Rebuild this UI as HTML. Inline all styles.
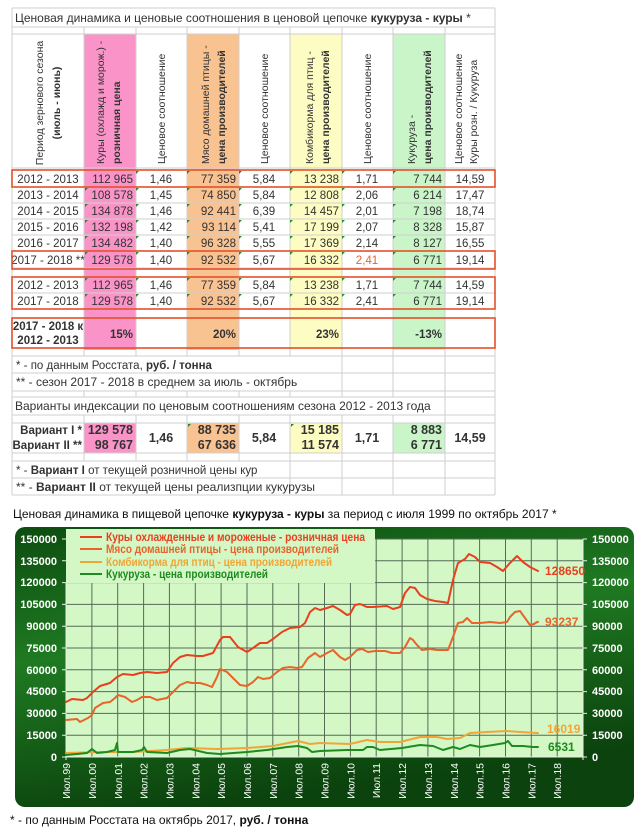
<!DOCTYPE html>
<html><head><meta charset="utf-8">
<style>
html,body{margin:0;padding:0;background:#fff;}
svg{display:block;font-family:"Liberation Sans",sans-serif;}
</style></head><body>
<svg width="640" height="838" viewBox="0 0 640 838" xmlns="http://www.w3.org/2000/svg">
<defs>
<linearGradient id="bg" x1="0" y1="0" x2="0.3" y2="1">
<stop offset="0" stop-color="#0d4d10"/><stop offset="0.45" stop-color="#1f7a22"/><stop offset="1" stop-color="#0b420d"/>
</linearGradient>
</defs>
<rect x="84" y="34" width="52" height="316" fill="#fa94c8"/>
<rect x="187" y="34" width="52" height="316" fill="#f9c291"/>
<rect x="290" y="34" width="52" height="316" fill="#fdfcc2"/>
<rect x="393" y="34" width="52" height="316" fill="#c9f5c9"/>
<rect x="84" y="423" width="52" height="30" fill="#fa94c8"/>
<rect x="187" y="423" width="52" height="30" fill="#f9c291"/>
<rect x="290" y="423" width="52" height="30" fill="#fdfcc2"/>
<rect x="393" y="423" width="52" height="30" fill="#c9f5c9"/>
<g stroke="#cfcfcf" stroke-width="1" fill="none">
<path d="M12 8H495M12 27H495M12 34H495M12 168H495M12 187H495M12 203H495M12 219H495M12 235H495M12 251H495M12 268H495M12 277H495M12 293H495M12 309H495M12 318H495M12 348H495M12 356H495M12 373H495M12 391H495M12 397H495M12 415H495M12 423H495M12 453H495M12 461H495M12 478H495M12 495H495"/>
<path d="M12 8V495M495 8V495"/>
<path d="M84 27V356M136 27V356M187 27V356M239 27V356M290 27V356M342 27V356M393 27V356M445 27V356"/>
<path d="M84 391V397M136 391V397M187 391V397M239 391V397M290 391V397M342 391V397M393 391V397M445 391V397"/>
<path d="M84 415V461M136 415V461M187 415V461M239 415V461M290 415V461M342 415V461M393 415V461M445 415V461"/>
<path d="M342 356V391M393 356V391M445 356V391M445 397V415M290 461V495M342 461V495M393 461V495M445 461V495"/>
</g>
<g font-size="12" fill="#333">
<text x="15" y="22">Ценовая динамика и ценовые соотношения в ценовой цепочке <tspan font-weight="bold">кукуруза - куры</tspan> *</text>
</g>
<g font-size="10.5" fill="#333">
<text transform="translate(43,103) rotate(-90)" text-anchor="middle">Период зернового сезона</text>
<text transform="translate(60,103) rotate(-90)" text-anchor="middle" font-weight="bold">(июль - июнь)</text>
<text transform="translate(104,164) rotate(-90)">Куры (охлажд и морож.) -</text>
<text transform="translate(120,164) rotate(-90)" font-weight="bold">розничная цена</text>
<text transform="translate(165,164) rotate(-90)">Ценовое соотношение</text>
<text transform="translate(209,164) rotate(-90)">Мясо домашней птицы -</text>
<text transform="translate(225,164) rotate(-90)" font-weight="bold">цена производителей</text>
<text transform="translate(268,164) rotate(-90)">Ценовое соотношение</text>
<text transform="translate(313,164) rotate(-90)">Комбикорма для птиц -</text>
<text transform="translate(329,164) rotate(-90)" font-weight="bold">цена производителей</text>
<text transform="translate(371,164) rotate(-90)">Ценовое соотношение</text>
<text transform="translate(415,164) rotate(-90)">Кукуруза -</text>
<text transform="translate(431,164) rotate(-90)" font-weight="bold">цена производителей</text>
<text transform="translate(462,164) rotate(-90)">Ценовое соотношение</text>
<text transform="translate(477,164) rotate(-90)">Куры розн. / Кукуруза</text>
</g>
<g font-size="11.5" fill="#333">
<g text-anchor="middle">
<text x="48" y="183">2012 - 2013</text><text x="48" y="199">2013 - 2014</text><text x="48" y="215">2014 - 2015</text><text x="48" y="231">2015 - 2016</text><text x="48" y="247">2016 - 2017</text><text x="48" y="264">2017 - 2018 **</text>
<text x="48" y="289">2012 - 2013</text><text x="48" y="305">2017 - 2018</text>
<text x="161" y="183">1,46</text><text x="161" y="199">1,45</text><text x="161" y="215">1,46</text><text x="161" y="231">1,42</text><text x="161" y="247">1,40</text><text x="161" y="264">1,40</text><text x="161" y="289">1,46</text><text x="161" y="305">1,40</text>
<text x="264" y="183">5,84</text><text x="264" y="199">5,84</text><text x="264" y="215">6,39</text><text x="264" y="231">5,41</text><text x="264" y="247">5,55</text><text x="264" y="264">5,67</text><text x="264" y="289">5,84</text><text x="264" y="305">5,67</text>
<text x="367" y="183">1,71</text><text x="367" y="199">2,06</text><text x="367" y="215">2,01</text><text x="367" y="231">2,07</text><text x="367" y="247">2,14</text><text x="367" y="264" fill="#e8642a">2,41</text><text x="367" y="289">1,71</text><text x="367" y="305">2,41</text>
<text x="470" y="183">14,59</text><text x="470" y="199">17,47</text><text x="470" y="215">18,74</text><text x="470" y="231">15,87</text><text x="470" y="247">16,55</text><text x="470" y="264">19,14</text><text x="470" y="289">14,59</text><text x="470" y="305">19,14</text>
</g>
<g text-anchor="end">
<text x="133" y="183">112 965</text><text x="133" y="199">108 578</text><text x="133" y="215">134 878</text><text x="133" y="231">132 198</text><text x="133" y="247">134 482</text><text x="133" y="264">129 578</text><text x="133" y="289">112 965</text><text x="133" y="305">129 578</text>
<text x="236" y="183">77 359</text><text x="236" y="199">74 850</text><text x="236" y="215">92 441</text><text x="236" y="231">93 114</text><text x="236" y="247">96 328</text><text x="236" y="264">92 532</text><text x="236" y="289">77 359</text><text x="236" y="305">92 532</text>
<text x="339" y="183">13 238</text><text x="339" y="199">12 808</text><text x="339" y="215">14 457</text><text x="339" y="231">17 199</text><text x="339" y="247">17 369</text><text x="339" y="264">16 332</text><text x="339" y="289">13 238</text><text x="339" y="305">16 332</text>
<text x="442" y="183">7 744</text><text x="442" y="199">6 214</text><text x="442" y="215">7 198</text><text x="442" y="231">8 328</text><text x="442" y="247">8 127</text><text x="442" y="264">6 771</text><text x="442" y="289">7 744</text><text x="442" y="305">6 771</text>
</g>
<g font-weight="bold">
<text x="48" y="330" text-anchor="middle">2017 - 2018 к</text>
<text x="48" y="344" text-anchor="middle">2012 - 2013</text>
<text x="133" y="338" text-anchor="end">15%</text>
<text x="236" y="338" text-anchor="end">20%</text>
<text x="339" y="338" text-anchor="end">23%</text>
<text x="442" y="338" text-anchor="end">-13%</text>
</g>
<text x="16" y="369">* - по данным Росстата, <tspan font-weight="bold">руб. / тонна</tspan></text>
<text x="16" y="386" font-size="12">** - сезон 2017 - 2018 в среднем за июль - октябрь</text>
<text x="15" y="410" font-size="12">Варианты индексации по ценовым соотношениям сезона 2012 - 2013 года</text>
<g font-weight="bold">
<text x="82" y="434" text-anchor="end">Вариант I *</text>
<text x="82" y="449" text-anchor="end">Вариант II **</text>
<text x="133" y="434" text-anchor="end" font-size="12.5">129 578</text>
<text x="133" y="449" text-anchor="end" font-size="12.5">98 767</text>
<text x="161" y="442" text-anchor="middle" font-size="12.5">1,46</text>
<text x="236" y="434" text-anchor="end" font-size="12.5">88 735</text>
<text x="236" y="449" text-anchor="end" font-size="12.5">67 636</text>
<text x="264" y="442" text-anchor="middle" font-size="12.5">5,84</text>
<text x="339" y="434" text-anchor="end" font-size="12.5">15 185</text>
<text x="339" y="449" text-anchor="end" font-size="12.5">11 574</text>
<text x="367" y="442" text-anchor="middle" font-size="12.5">1,71</text>
<text x="442" y="434" text-anchor="end" font-size="12.5">8 883</text>
<text x="442" y="449" text-anchor="end" font-size="12.5">6 771</text>
<text x="470" y="442" text-anchor="middle" font-size="12.5">14,59</text>
</g>
<text x="16" y="474">* - <tspan font-weight="bold">Вариант I</tspan> от текущей розничной цены кур</text>
<text x="16" y="491" font-size="12">** - <tspan font-weight="bold">Вариант II</tspan> от текущей цены реализпции кукурузы</text>
</g>
<g fill="#2a8a2a">
<path d="M85 188h3l-3 3zM85 204h3l-3 3zM85 220h3l-3 3zM85 236h3l-3 3zM85 252h3l-3 3zM85 278h3l-3 3zM85 294h3l-3 3z"/>
<path d="M136 171h3l-3 3zM136 188h3l-3 3zM136 204h3l-3 3zM136 220h3l-3 3zM136 236h3l-3 3zM136 252h3l-3 3zM136 278h3l-3 3zM136 294h3l-3 3z"/>
<path d="M187 171h3l-3 3zM187 188h3l-3 3zM187 204h3l-3 3zM187 220h3l-3 3zM187 236h3l-3 3zM187 252h3l-3 3zM187 278h3l-3 3zM187 294h3l-3 3zM188 424h3l-3 3z"/>
<path d="M239 171h3l-3 3zM239 188h3l-3 3zM239 204h3l-3 3zM239 220h3l-3 3zM239 236h3l-3 3zM239 252h3l-3 3zM239 278h3l-3 3zM239 294h3l-3 3z"/>
<path d="M290 171h3l-3 3zM290 188h3l-3 3zM290 204h3l-3 3zM290 220h3l-3 3zM290 236h3l-3 3zM290 252h3l-3 3zM290 278h3l-3 3zM290 294h3l-3 3zM291 424h3l-3 3z"/>
<path d="M342 171h3l-3 3zM342 188h3l-3 3zM342 204h3l-3 3zM342 220h3l-3 3zM342 236h3l-3 3zM342 252h3l-3 3zM342 278h3l-3 3zM342 294h3l-3 3z"/>
<path d="M393 171h3l-3 3zM393 188h3l-3 3zM393 204h3l-3 3zM393 220h3l-3 3zM393 236h3l-3 3zM393 252h3l-3 3zM393 278h3l-3 3zM393 294h3l-3 3z"/>
</g>
<g fill="none" stroke="#e5502a" stroke-width="1.6">
<rect x="12" y="170" width="483" height="17"/>
<rect x="12" y="251" width="483" height="18"/>
<rect x="12" y="277" width="483" height="32"/>
<rect x="12" y="318" width="483" height="30"/>
</g>
<text x="13" y="518" font-size="12" fill="#111">Ценовая динамика в пищевой цепочке <tspan font-weight="bold">кукуруза - куры</tspan> за период с июля 1999 по октябрь 2017 *</text>
<!-- CHART -->
<rect x="15" y="527" width="619" height="280" rx="10" fill="url(#bg)"/>
<rect x="66" y="539" width="517" height="218" fill="#d3f8c6"/>
<g stroke="#556b55" stroke-width="1">
<path d="M66 539H583M66 560.8H583M66 582.6H583M66 604.4H583M66 626.2H583M66 648H583M66 669.8H583M66 691.6H583M66 713.4H583M66 735.2H583"/>
<path d="M91.9 539V757M117.7 539V757M143.6 539V757M169.4 539V757M195.3 539V757M221.1 539V757M247 539V757M272.8 539V757M298.7 539V757M324.5 539V757M350.4 539V757M376.2 539V757M402.1 539V757M427.9 539V757M453.8 539V757M479.6 539V757M505.5 539V757M531.3 539V757M557.2 539V757"/>
</g>
<rect x="66" y="529" width="309" height="54" fill="#d3f8c6"/>
<g stroke="#e8f0e8" stroke-width="1">
<path d="M66 583V760M583 539V760M66 757H583"/>
<path d="M62 539H66M62 560.8H66M62 582.6H66M62 604.4H66M62 626.2H66M62 648H66M62 669.8H66M62 691.6H66M62 713.4H66M62 735.2H66M62 757H66"/>
<path d="M583 539H587M583 560.8H587M583 582.6H587M583 604.4H587M583 626.2H587M583 648H587M583 669.8H587M583 691.6H587M583 713.4H587M583 735.2H587M583 757H587"/>
</g>
<g font-size="11" font-weight="bold" fill="#fff">
<g text-anchor="end">
<text x="57" y="543">150000</text><text x="57" y="565">135000</text><text x="57" y="586">120000</text><text x="57" y="608">105000</text><text x="57" y="630">90000</text><text x="57" y="652">75000</text><text x="57" y="674">60000</text><text x="57" y="695">45000</text><text x="57" y="717">30000</text><text x="57" y="739">15000</text><text x="57" y="761">0</text>
</g>
<text x="592" y="543">150000</text><text x="592" y="565">135000</text><text x="592" y="586">120000</text><text x="592" y="608">105000</text><text x="592" y="630">90000</text><text x="592" y="652">75000</text><text x="592" y="674">60000</text><text x="592" y="695">45000</text><text x="592" y="717">30000</text><text x="592" y="739">15000</text><text x="592" y="761">0</text>
</g>
<g font-size="10.5" fill="#fff" text-anchor="end">
<text transform="translate(70,763) rotate(-90)">Июл.99</text>
<text transform="translate(96,763) rotate(-90)">Июл.00</text>
<text transform="translate(122,763) rotate(-90)">Июл.01</text>
<text transform="translate(147.6,763) rotate(-90)">Июл.02</text>
<text transform="translate(173.4,763) rotate(-90)">Июл.03</text>
<text transform="translate(199.3,763) rotate(-90)">Июл.04</text>
<text transform="translate(225.1,763) rotate(-90)">Июл.05</text>
<text transform="translate(251,763) rotate(-90)">Июл.06</text>
<text transform="translate(276.8,763) rotate(-90)">Июл.07</text>
<text transform="translate(302.7,763) rotate(-90)">Июл.08</text>
<text transform="translate(328.5,763) rotate(-90)">Июл.09</text>
<text transform="translate(354.4,763) rotate(-90)">Июл.10</text>
<text transform="translate(380.2,763) rotate(-90)">Июл.11</text>
<text transform="translate(406.1,763) rotate(-90)">Июл.12</text>
<text transform="translate(431.9,763) rotate(-90)">Июл.13</text>
<text transform="translate(457.8,763) rotate(-90)">Июл.14</text>
<text transform="translate(483.6,763) rotate(-90)">Июл.15</text>
<text transform="translate(509.5,763) rotate(-90)">Июл.16</text>
<text transform="translate(535.3,763) rotate(-90)">Июл.17</text>
<text transform="translate(561.2,763) rotate(-90)">Июл.18</text>
</g>
<g fill="none" stroke-width="2" stroke-linejoin="round" stroke-linecap="round">
<polyline stroke="#f2a535" points="66,753 100,752 133,752 167,750 187,748 217,749 247,748 273,746 298,741 310,744 320,743 350,744 367,740 380,742 400,742 420,737 437,737 447,739 460,738 470,733 487,732 507,731 520,732 538,733"/>
<polyline stroke="#1f8a1f" points="66,755 77,754 87,753 92,749 97,753 107,752 115,750 117,743 118,752 133,752 142,750 144,747 147,752 167,753 180,750 190,749 207,753 220,754 247,752 267,750 287,747 298,746 307,748 312,752 320,751 347,750 363,750 367,747 373,747 380,750 402,748 420,745 433,746 443,750 453,747 460,749 470,745 480,747 493,745 505,743 508,741 512,746 523,746 533,747 538,747"/>
<polyline stroke="#e8642a" points="66,720 77,719 80,722 88,718 92,715 95,708 103,703 110,702 115,698 118,695 125,697 132,702 137,700 142,697 150,697 157,700 167,698 173,692 180,685 187,682 192,683 200,683 207,685 212,687 217,677 220,669 227,672 233,678 240,685 247,686 253,682 258,677 263,679 270,678 277,672 283,668 290,667 297,668 302,667 308,658 315,653 320,657 327,653 333,650 340,657 345,660 350,657 357,650 362,649 368,652 375,651 385,651 392,653 400,653 405,647 410,638 413,640 417,645 422,650 430,649 437,650 448,650 453,637 458,623 463,622 467,618 472,623 480,623 490,622 500,623 507,622 510,617 515,612 520,611 525,618 530,625 534,624 537,622 538,622"/>
<polyline stroke="#e8401e" points="66,702 72,699 83,700 87,698 93,692 100,686 110,683 117,677 123,674 133,675 140,673 147,672 157,673 167,672 173,663 180,657 187,655 197,656 203,656 213,653 220,640 223,637 230,637 238,647 247,652 253,648 260,643 267,643 273,639 282,632 290,628 300,627 305,623 310,612 315,608 320,610 327,608 333,606 340,610 347,615 350,614 355,605 360,604 367,607 373,607 387,606 393,609 400,607 405,593 410,587 415,588 420,595 427,599 435,601 443,602 448,603 453,580 458,563 465,559 469,554 475,557 480,562 490,563 497,567 503,571 510,563 517,556 523,562 530,567 538,571"/>
</g>
<g font-size="12" font-weight="bold">
<text x="545" y="575" fill="#e8401e">128650</text>
<text x="545" y="626" fill="#e8642a">93237</text>
<text x="547" y="733" fill="#f2a535">16019</text>
<text x="548" y="751" fill="#1f8a1f">6531</text>
</g>
<g stroke-width="2">
<line x1="80" y1="537" x2="102" y2="537" stroke="#e8401e"/>
<line x1="80" y1="549" x2="102" y2="549" stroke="#e8642a"/>
<line x1="80" y1="562" x2="102" y2="562" stroke="#f2a535"/>
<line x1="80" y1="574" x2="102" y2="574" stroke="#1f8a1f"/>
</g>
<g font-size="11.5" font-weight="bold">
<text x="106" y="541" fill="#e8401e" textLength="259" lengthAdjust="spacingAndGlyphs">Куры охлажденные и мороженые - розничная цена</text>
<text x="106" y="553" fill="#e8642a" textLength="233" lengthAdjust="spacingAndGlyphs">Мясо домашней птицы - цена производителей</text>
<text x="106" y="566" fill="#f2a535" textLength="226" lengthAdjust="spacingAndGlyphs">Комбикорма для птиц - цена производителей</text>
<text x="106" y="578" fill="#1f8a1f" textLength="162" lengthAdjust="spacingAndGlyphs">Кукуруза - цена производителей</text>
</g>
<text x="10" y="824" font-size="12" fill="#111">* - по данным Росстата на октябрь 2017, <tspan font-weight="bold">руб. / тонна</tspan></text>
</svg>
</body></html>
